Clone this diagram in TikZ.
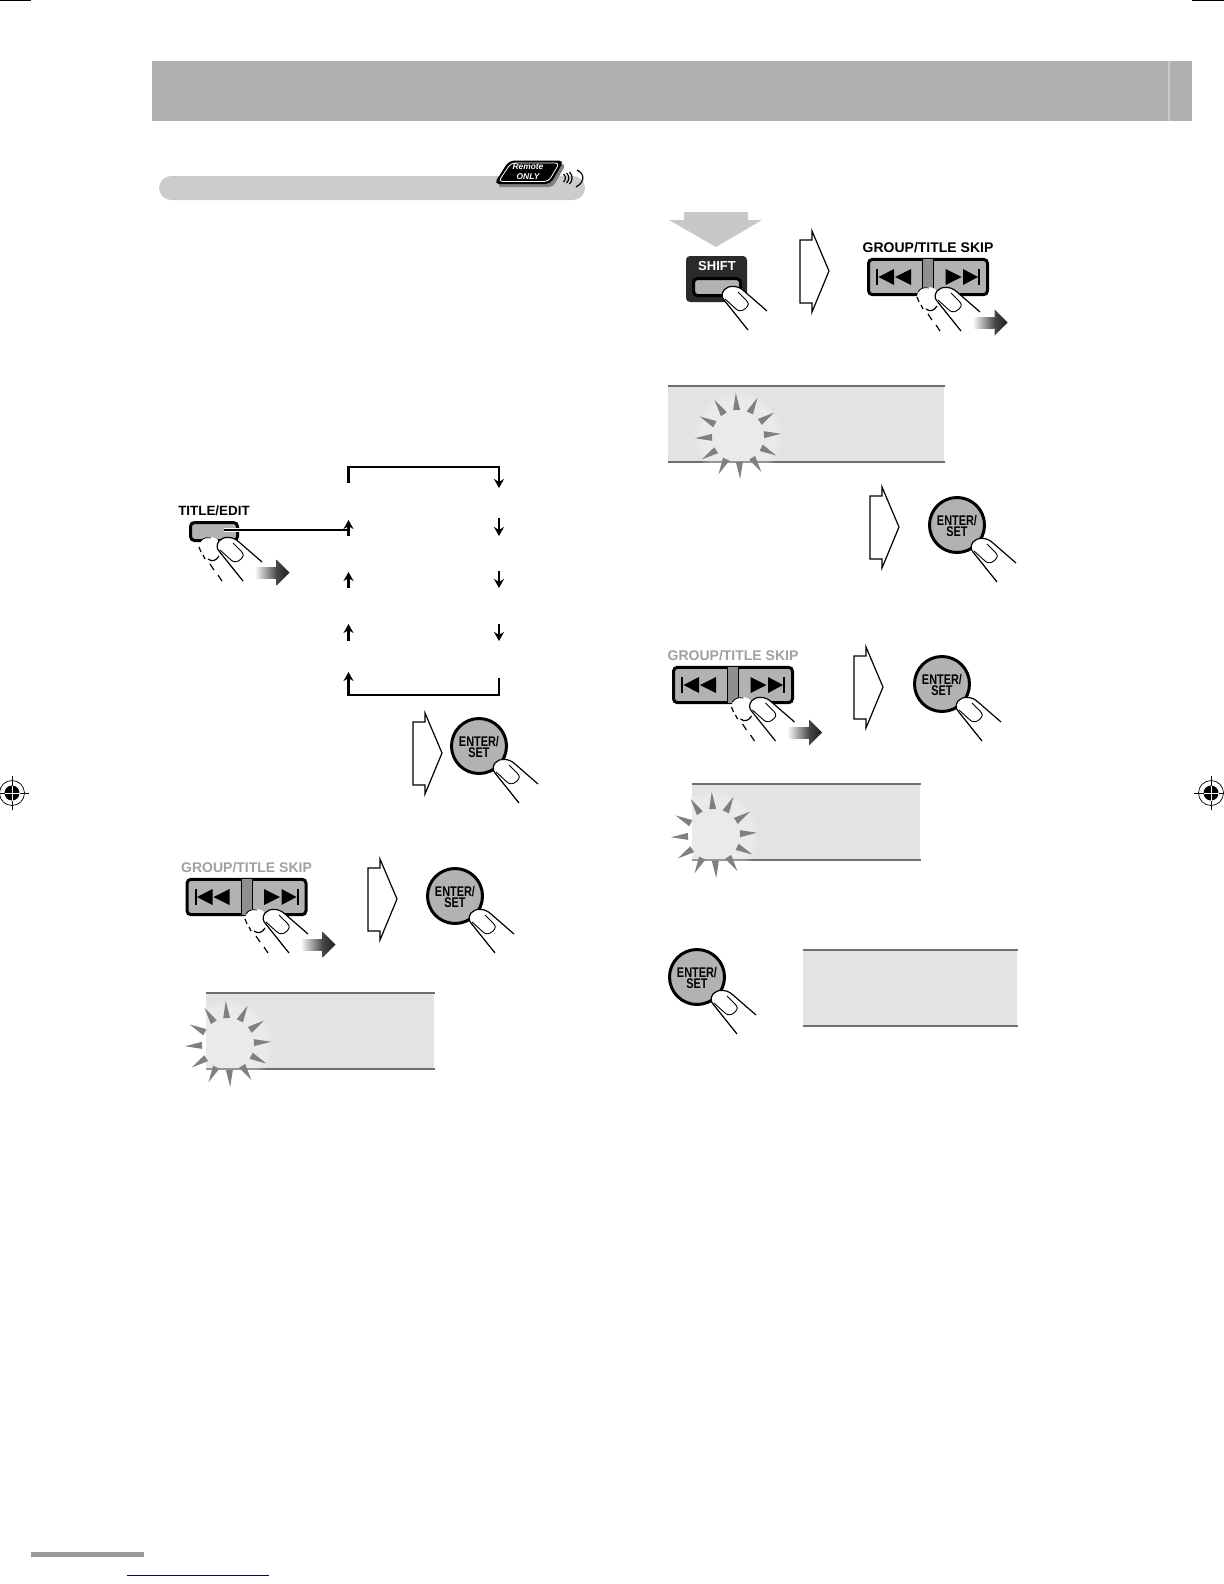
\documentclass[tikz,border=0pt]{standalone}
\usepackage{fontspec}
\setmainfont{Liberation Sans}
\newfontfamily\narrowfont[FakeStretch=0.78]{Liberation Sans}
\usetikzlibrary{arrows.meta,positioning,fadings}
\definecolor{bandgray}{HTML}{B0B0B0}
\definecolor{sectiongray}{HTML}{CCCCCC}
\definecolor{keygray}{HTML}{B2B2B2}
\definecolor{stripgray}{HTML}{8F8F8F}
\definecolor{lcdgray}{HTML}{E3E3E3}
\definecolor{lcdline}{HTML}{6E6E6E}
\definecolor{raygray}{HTML}{808080}
\definecolor{labelgray}{HTML}{A0A0A0}
\definecolor{dropgray}{HTML}{C8C8C8}
\definecolor{panelblack}{HTML}{2A2A2A}
\newcommand{\entertext}{\raisebox{-3.2pt}[0pt][0pt]{\begin{tabular}{@{}c@{}}ENTER/\\[-1pt]SET\end{tabular}}}
\tikzset{
  line/.style={-{Stealth[length=4.5pt,width=5pt]}, line width=1.3pt},
  plainline/.style={line width=1.3pt},
  thinline/.style={line width=0.6pt},
  keybox/.style={draw=black, line width=1.5pt, fill=keygray, rounded corners=2pt, inner sep=0pt},
  titlekey/.style={keybox, minimum width=23.5pt, minimum height=9pt},
  skipkey/.style={keybox, minimum width=59.5pt, minimum height=17.7pt},
  enterkey/.style={circle, draw=black, line width=1.5pt, fill=keygray, inner sep=0pt, minimum size=27.5pt,
    align=center, font=\narrowfont\bfseries\fontsize{7}{5.6}\selectfont},
  keylabel/.style={inner sep=0pt, font=\bfseries\fontsize{7}{8}\selectfont},
  lcd/.style={fill=lcdgray, inner sep=0pt, minimum height=37.5pt, anchor=north west},
  lcdedge/.style={draw=lcdline, line width=1pt},
  pics/finger/.style={code={
    \draw[thinline, fill=white] (37,23) -- (14,3) .. controls (8,-3) and (-2,-3) .. (-6,2)
      .. controls (-9,6) and (-8,10) .. (-6,12) -- (18,42);
    \draw[line width=0.45pt] (-5,11) -- (6,21) .. controls (9,24) and (13,23) .. (16,20)
      .. controls (19,17) and (19,15) .. (16,12) -- (8,4);
  }},
  pics/ghost/.style={code={
    \fill[white] (-26,8) .. controls (-26,0) and (-16,-5) .. (-8,0) -- (2,12) -- (12,42) -- (-3,42) -- (-15,25) -- cycle;
    \draw[thinline] (-26,8) -- (-24,13) (-22,16) -- (-20,20) (-15,25) -- (-11,31) (-7,36) -- (-3,42);
    \draw[thinline] (-17,20) .. controls (-13,23) and (-9,22) .. (-6,17);
    \draw[line width=0.4pt] (-25,3) .. controls (-23,-1) and (-18,-2) .. (-14,-1);
  }},
  pics/pushright/.style={code={
    \shade[left color=white, right color=black!72] (-35,-5.5) rectangle (-12.8,5.5);
    \shade[left color=black!72, right color=black!88] (-13,-13) -- (0,0) -- (-13,13) -- cycle;
  }},
  pics/hand/.style={code={
    \pic at (0,0) {ghost};
    \pic at (0,0) {finger};
    \pic at (64.5,33.5) {pushright};
  }},
  pics/thenarrow/.style={code={
    \draw[thinline, fill=white] (-29,-31) -- (-17,-31) -- (-17,-40) -- (0,0) -- (-17,41) -- (-17,32) -- (-29,32) -- cycle;
  }},
  pics/skipmarks/.style={code={
    \fill[stripgray] (-5.5,-17.7) rectangle (5.5,17.7);
    \draw[line width=0.5pt] (-5.5,-17.7) -- (-5.5,17.7) (5.5,-17.7) -- (5.5,17.7);
    \fill (-52,-8) rectangle (-50,8);
    \fill (-49.5,0) -- (-34,-8) -- (-34,8) -- cycle;
    \fill (-33,0) -- (-17,-8) -- (-17,8) -- cycle;
    \fill (17.5,-8) -- (17.5,8) -- (33.5,0) -- cycle;
    \fill (35,-8) -- (35,8) -- (50,0) -- cycle;
    \fill (50,-8) rectangle (52,8);
  }},
  pics/burst/.style={code={
    \fill[white, opacity=0.28, path fading=circle with fuzzy edge 20 percent] (0,0) circle (46);
    \foreach \a in {0,30,...,330}{
      \fill[raygray, rotate=\a+3] (26,-3.5) -- (43,0) -- (26,3.5) -- cycle;
    }
  }},
  pics/regmark/.style={code={
    \draw[line width=0.35pt] (0,0) circle (12.5);
    \draw[line width=0.35pt] (-17,0) -- (17,0) (0,-17) -- (0,17);
    \fill (0,0) circle (7.5);
    \draw[white, line width=0.35pt] (-7.5,0) -- (7.5,0) (0,-7.5) -- (0,7.5);
  }}
}
\begin{document}
\begin{tikzpicture}[x=0.5pt,y=-0.5pt]
  \useasboundingbox (0,0) rectangle (1224,1584);

  % page furniture
  \fill[bandgray] (151.5,61) rectangle (1192,121);
  \fill[dropgray] (1168.3,61) rectangle (1169.8,121);
  \draw[line width=0.6pt] (0,0.6) -- (31,0.6);
  \draw[line width=0.6pt] (1192,0.8) -- (1224,0.8);
  \pic at (12,793) {regmark};
  \pic at (1211,793) {regmark};
  \fill[black!40] (31,1552) rectangle (144,1557);
  \draw[blue!50!black, line width=0.5pt] (127,1575) -- (269,1575);

  % section band and remote badge
  \fill[sectiongray, rounded corners=6pt] (159,176) rectangle (585,200);
  \fill[black!50, rounded corners=2pt] (512,164) -- (566,164) -- (553,187) -- (497,187) -- cycle;
  \fill[black, rounded corners=2.5pt] (509,160.5) -- (564,160.5) -- (550.5,184) -- (494,184) -- cycle;
  \draw[white, line width=0.4pt, rounded corners=2pt] (511,163) -- (559.5,163) -- (548.5,181.5) -- (498.5,181.5) -- cycle;
  \node[inner sep=0pt, text=white, align=center, font=\bfseries\itshape\fontsize{4.2}{4.9}\selectfont] (remote) at (528,172) {Remote\\ONLY};
  \draw[line width=0.6pt] (563.5,174) .. controls (566,176) and (566,180) .. (563.5,182)
    (566.5,173) .. controls (569.5,176) and (569.5,180) .. (566.5,183)
    (569.5,172) .. controls (573,176) and (573,180) .. (569.5,184);
  \draw[line width=0.6pt] (577,170) .. controls (585,174) and (585,182) .. (576,187);

  % TITLE/EDIT cycle
  \node[titlekey] (titleedit) at (214,531.5) {};
  \node[keylabel, font=\bfseries\fontsize{6.7}{8}\selectfont, above=2.5pt of titleedit] (titlelabel) {TITLE/EDIT};
  \coordinate (titlestart) at (224,530);
  \coordinate (titleend) at (348.5,530);
  \draw[white, line width=2.4pt] (titlestart) -- (titleedit.east |- titlestart);
  \draw[plainline] (titlestart) -- (titleend);
  \pic at ([shift={(11,7.5)}]titleedit) {hand};

  \coordinate (brA) at (348.5,483);
  \coordinate (brB) at (348.5,467);
  \coordinate (brC) at (499,467);
  \coordinate (brD) at (499,488);
  \draw[line] (brA) -- (brB) -- (brC) -- (brD);
  \coordinate (brE) at (499,678);
  \coordinate (brF) at (499,695);
  \coordinate (brG) at (348.5,695);
  \coordinate (brH) at (348.5,672);
  \draw[line] (brE) -- (brF) -- (brG) -- (brH);

  \foreach \name/\ya/\yb in {upA/536/520, upB/588/572, upC/641/624}{
    \coordinate (\name tail) at (348.5,\ya);
    \coordinate (\name tip) at (348.5,\yb);
    \draw[line] (\name tail) -- (\name tip);
  }
  \foreach \name/\ya/\yb in {downA/518/536, downB/571/588, downC/624/641}{
    \coordinate (\name tail) at (499,\ya);
    \coordinate (\name tip) at (499,\yb);
    \draw[line] (\name tail) -- (\name tip);
  }

  \pic at (442,753) {thenarrow};
  \node[enterkey] (enterA) at (479,746) {\entertext};
  \pic at ([shift={(22,15)}]enterA) {finger};

  % left skip step
  \node[skipkey] (skipA) at (246.5,897) {};
  \node[keylabel, text=labelgray, above=2.5pt of skipA] (skipAlabel) {GROUP/TITLE SKIP};
  \pic at (skipA) {skipmarks};
  \pic at ([shift={(24.5,14)}]skipA) {hand};
  \pic at (397,899) {thenarrow};
  \node[enterkey] (enterB) at (455,896) {\entertext};
  \pic at ([shift={(22,15)}]enterB) {finger};

  \node[lcd, minimum width=114pt] (lcdA) at (206,993) {};
  \draw[lcdedge] (lcdA.north west) -- (lcdA.north east);
  \draw[lcdedge] (lcdA.south west) -- (lcdA.south east);
  \pic at (228,1044) {burst};

  % right column
  \fill[dropgray] (684,212) -- (748,212) -- (748,220) -- (762,220) -- (716,247) -- (669,220) -- (684,220) -- cycle;
  \node[fill=panelblack, rounded corners=2pt, minimum width=30.5pt, minimum height=23pt, inner sep=0pt] (shiftpanel) at (716.5,279) {};
  \node[keylabel, text=white, font=\bfseries\fontsize{6.5}{8}\selectfont] (shiftlabel) at (717,266) {SHIFT};
  \node[keybox, minimum width=23.5pt, minimum height=8.5pt] (shiftkey) at (717,287) {};
  \pic at ([shift={(13,1)}]shiftkey) {finger};

  \pic at (829,271) {thenarrow};
  \node[skipkey] (skipB) at (928,277) {};
  \node[keylabel, above=2.5pt of skipB] (skipBlabel) {GROUP/TITLE SKIP};
  \pic at (skipB) {skipmarks};
  \pic at ([shift={(15,12)}]skipB) {hand};

  \node[lcd, minimum width=138pt] (lcdB) at (668,386) {};
  \draw[lcdedge] (lcdB.north west) -- (lcdB.north east);
  \draw[lcdedge] (lcdB.south west) -- (lcdB.south east);
  \pic at (738,436) {burst};

  \pic at (899,527) {thenarrow};
  \node[enterkey] (enterC) at (957,525) {\entertext};
  \pic at ([shift={(22,15)}]enterC) {finger};

  \node[skipkey] (skipC) at (733,685) {};
  \node[keylabel, text=labelgray, above=2.5pt of skipC] (skipClabel) {GROUP/TITLE SKIP};
  \pic at (skipC) {skipmarks};
  \pic at ([shift={(24.5,14)}]skipC) {hand};
  \pic at (883,687) {thenarrow};
  \node[enterkey] (enterD) at (942,684) {\entertext};
  \pic at ([shift={(22,15)}]enterD) {finger};

  \node[lcd, minimum width=114pt] (lcdC) at (692,784) {};
  \draw[lcdedge] (lcdC.north west) -- (lcdC.north east);
  \draw[lcdedge] (lcdC.south west) -- (lcdC.south east);
  \pic at (714,835) {burst};

  \node[enterkey] (enterE) at (697,977) {\entertext};
  \pic at ([shift={(22,15)}]enterE) {finger};
  \node[lcd, minimum width=107pt] (lcdD) at (803,950) {};
  \draw[lcdedge] (lcdD.north west) -- (lcdD.north east);
  \draw[lcdedge] (lcdD.south west) -- (lcdD.south east);
\end{tikzpicture}
\end{document}
